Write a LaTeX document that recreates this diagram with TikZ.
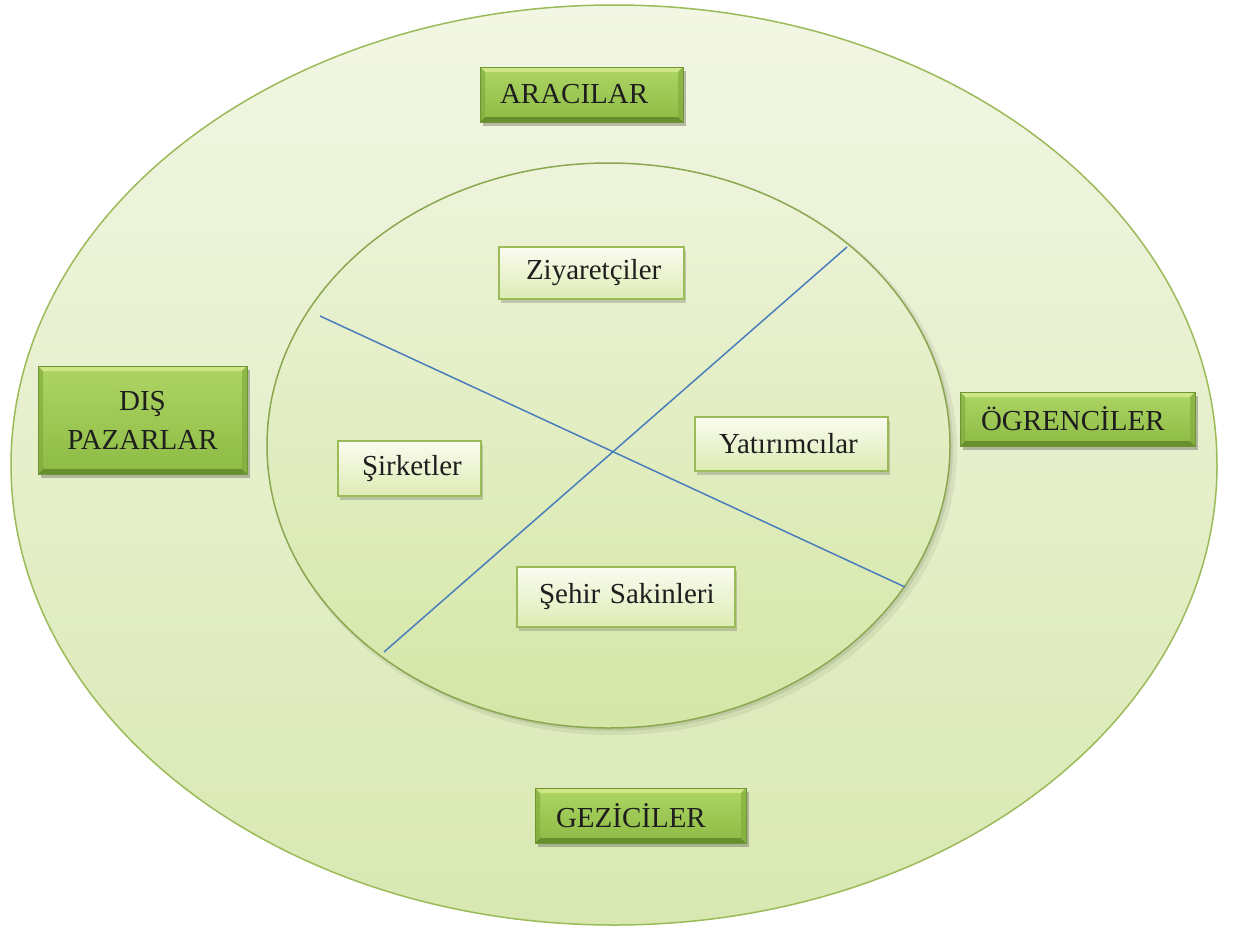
\documentclass[tikz,border=0pt]{standalone}
\usepackage{fontspec}
\setmainfont{Liberation Serif}
\usetikzlibrary{shadows}

\definecolor{ringedge}{HTML}{9BBB59}
\definecolor{ringtop}{HTML}{F2F6E4}
\definecolor{ringbot}{HTML}{D9E8B1}
\definecolor{coretop}{HTML}{EEF4DB}
\definecolor{corebot}{HTML}{D5E6A6}
\definecolor{splitblue}{HTML}{4A7EBB}
\definecolor{tiletop}{HTML}{AED564}
\definecolor{tilebot}{HTML}{8CBB44}
\definecolor{tilehi}{HTML}{D2E88A}
\definecolor{tilelo}{HTML}{5F8428}
\definecolor{tileside}{HTML}{82AC3E}
\definecolor{tileedge}{HTML}{6E9434}
\definecolor{cardtop}{HTML}{FAFCF1}
\definecolor{cardbot}{HTML}{DDEBB3}
\definecolor{inktext}{HTML}{1E1E1E}

\tikzset{
  bigfont/.style={font=\fontsize{29}{39}\selectfont, text=inktext},
  % dark bevelled tile on the outer ring
  tile/.style={
    bigfont, rectangle, draw=tileedge, line width=0.8pt,
    top color=tiletop, bottom color=tilebot,
    inner ysep=0pt, align=left,
    drop shadow={shadow xshift=3pt, shadow yshift=-4pt, opacity=0.35, fill=black!70},
    path picture={
      \fill[tilehi, opacity=0.9]
        (path picture bounding box.north west) -- (path picture bounding box.north east)
        -- ([shift={(-5pt,-5pt)}]path picture bounding box.north east)
        -- ([shift={(5pt,-5pt)}]path picture bounding box.north west) -- cycle;
      \fill[tilelo, opacity=0.8]
        (path picture bounding box.south west) -- (path picture bounding box.south east)
        -- ([shift={(-5pt,5pt)}]path picture bounding box.south east)
        -- ([shift={(5pt,5pt)}]path picture bounding box.south west) -- cycle;
      \fill[tileside, opacity=0.7]
        (path picture bounding box.north west) -- ([shift={(5pt,-5pt)}]path picture bounding box.north west)
        -- ([shift={(5pt,5pt)}]path picture bounding box.south west)
        -- (path picture bounding box.south west) -- cycle;
      \fill[tileside, opacity=0.7]
        (path picture bounding box.north east) -- ([shift={(-5pt,-5pt)}]path picture bounding box.north east)
        -- ([shift={(-5pt,5pt)}]path picture bounding box.south east)
        -- (path picture bounding box.south east) -- cycle;
    }
  },
  % pale card inside the core
  card/.style={
    bigfont, rectangle, draw=ringedge, line width=1.6pt,
    top color=cardtop, bottom color=cardbot,
    inner ysep=0pt, align=left,
    drop shadow={shadow xshift=2pt, shadow yshift=-4pt, opacity=0.3, fill=black!60}
  },
  ring/.style={draw=ringedge, line width=1.5pt, top color=ringtop, bottom color=ringbot},
  core/.style={draw=ringedge!90!black, line width=1.5pt, top color=coretop, bottom color=corebot},
  splitter/.style={draw=splitblue, line width=1.5pt}
}

\begin{document}
\begin{tikzpicture}[x=1pt, y=-1pt]
  \useasboundingbox (0,0) rectangle (1234,929);
  \fill[white] (0,0) rectangle (1234,929);

  % outer ring
  \path[ring] (614,465) ellipse [x radius=603pt, y radius=460pt];

  % inner core with a soft shadow
  \fill[black, opacity=0.06] (613,450) ellipse [x radius=344pt, y radius=285pt];
  \fill[black, opacity=0.08] (611,448) ellipse [x radius=342pt, y radius=283pt];
  \path[core] (608.5,445.5) ellipse [x radius=341.5pt, y radius=282.5pt];

  % dividing lines
  \coordinate (l1a) at (320,316);
  \coordinate (l1b) at (905,587);
  \coordinate (l2a) at (384,652);
  \coordinate (l2b) at (847,247);
  \draw[splitter] (l1a) -- (l1b);
  \draw[splitter] (l2a) -- (l2b);

  % outer tiles
  \node[tile, minimum height=55pt, inner xsep=20pt, text width=163pt] (aracilar) at (581.5,94.5) {\mbox{ARACILAR}};
  \node[tile, minimum height=108pt, inner xsep=12pt, text width=185pt, align=center] (dis) at (142.5,420) {DIŞ\\PAZARLAR};
  \node[tile, minimum height=54pt, inner xsep=21pt, text width=193pt] (ogrenci) at (1077.5,419) {\mbox{ÖGRENCİLER}};
  \node[tile, minimum height=55pt, inner xsep=21pt, text width=169pt] (gezici) at (640.5,815.5) {\mbox{GEZİCİLER}};

  % inner cards
  \node[card, minimum height=52pt, inner xsep=27pt, text width=131pt] (ziyaret) at (591.5,273) {\mbox{Ziyaretçiler}};
  \node[card, minimum height=55pt, inner xsep=24pt, text width=95pt] (sirket) at (409.5,468.5) {\mbox{Şirketler}};
  \node[card, minimum height=54pt, inner xsep=24pt, text width=145pt] (yatirim) at (791.5,444) {\mbox{Yatırımcılar}};
  \node[card, minimum height=60pt, inner xsep=22pt, text width=174pt] (sehir) at (626,597) {\mbox{Şehir Sakinleri}};
\end{tikzpicture}
\end{document}
